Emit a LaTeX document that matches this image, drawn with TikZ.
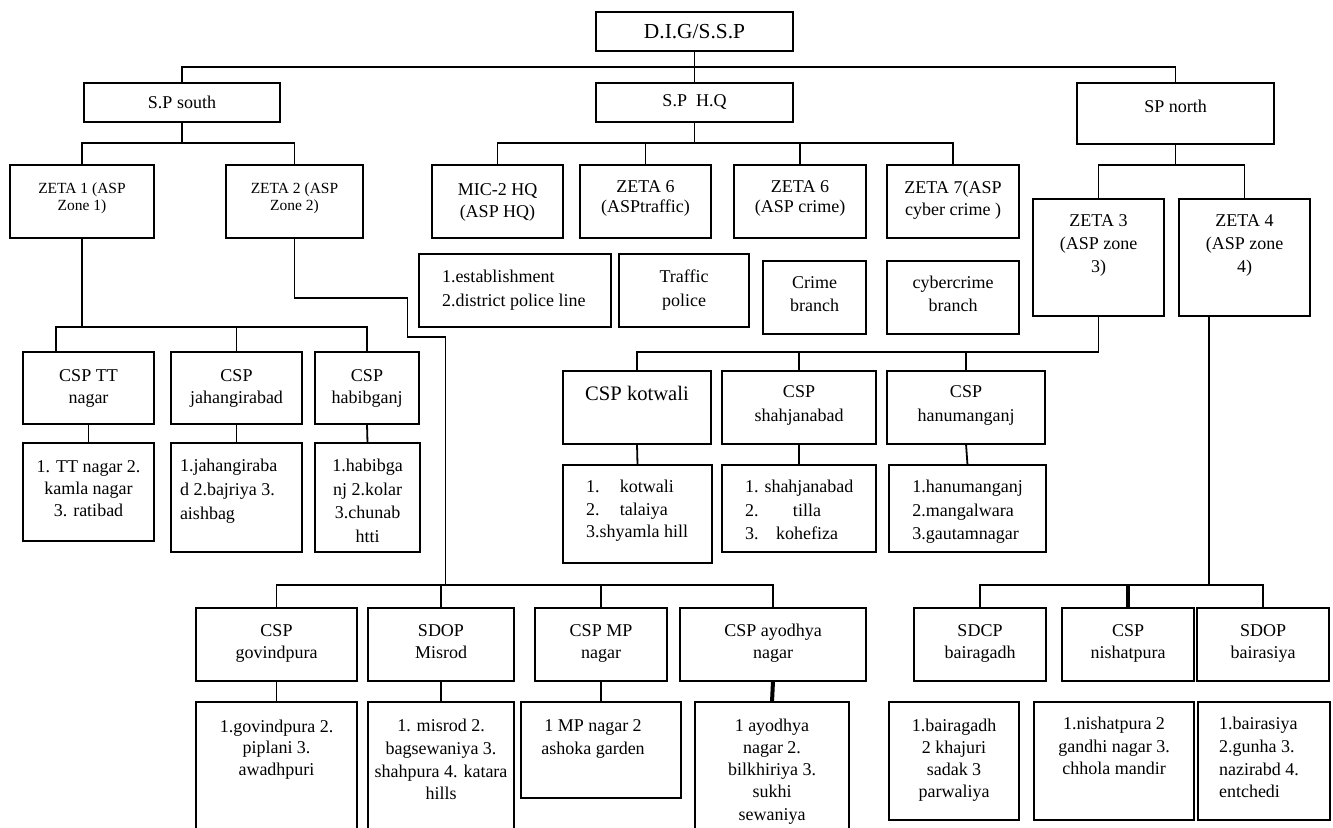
\documentclass[tikz,border=0pt]{standalone}
\usepackage{fontspec}
\setmainfont{Liberation Serif}
\usetikzlibrary{calc}
\newcommand{\obox}[5]{\node[box,anchor=north west,minimum width={((#4)-(#2))*0.5pt},minimum height={((#5)-(#3))*0.5pt}] (#1) at (#2,#3) {};}
\newcommand{\fs}[2]{\fontsize{#1}{#2}\selectfont}
\tikzset{
  box/.style={draw, rectangle, line width=1pt, inner sep=0pt, outer sep=0pt},
  conn/.style={line width=0.9pt},
  heavy/.style={line width=2pt},
  txt/.style={inner sep=0pt, outer sep=0pt, align=center, anchor=north, font=\fs{9}{11}},
  ltxt/.style={txt, anchor=north west, align=left},
}
\begin{document}
\begin{tikzpicture}[x=0.5pt,y=-0.5pt]
\useasboundingbox (0,0) rectangle (1333,828);
\clip (0,0) rectangle (1333,828);
% ---------- boxes ----------
\obox{dig}{596}{12}{793}{51}
\obox{spsouth}{84}{83}{280}{122}
\obox{sphq}{596}{83}{793}{122}
\obox{spnorth}{1077}{83}{1274}{144}
\obox{zeta1}{10}{165}{154}{238}
\obox{zeta2}{226}{165}{363}{238}
\obox{mic}{432}{165}{563}{238}
\obox{zsixt}{580}{165}{711}{238}
\obox{zsixc}{734}{165}{866}{238}
\obox{zseven}{887}{165}{1019}{238}
\obox{zeta3}{1033}{199}{1164}{316}
\obox{zeta4}{1179}{199}{1310}{316}
\obox{est}{419}{254}{611}{327}
\obox{traffic}{619}{254}{749}{327}
\obox{crime}{763}{261}{866}{334}
\obox{cyber}{887}{261}{1019}{334}
\obox{tt}{23}{352}{154}{424}
\obox{jahan}{171}{352}{302}{424}
\obox{habib}{315}{352}{419}{424}
\obox{ttsub}{23}{443}{154}{541}
\obox{jahansub}{171}{443}{302}{552}
\obox{habibsub}{315}{443}{420}{552}
\obox{kot}{563}{371}{711}{444}
\obox{shah}{722}{371}{876}{444}
\obox{hanu}{887}{371}{1045}{444}
\obox{kotsub}{563}{465}{712}{563}
\obox{shahsub}{722}{465}{876}{552}
\obox{hanusub}{889}{465}{1046}{552}
\obox{govind}{196}{608}{357}{681}
\obox{misrod}{368}{608}{514}{681}
\obox{mp}{535}{608}{667}{681}
\obox{ayo}{680}{608}{866}{681}
\obox{govsub}{196}{702}{357}{850}
\obox{missub}{368}{702}{514}{850}
\obox{mpsub}{521}{702}{681}{798}
\obox{ayosub}{695}{702}{849}{850}
\obox{bairagadh}{914}{608}{1046}{681}
\obox{nish}{1062}{608}{1194}{681}
\obox{bairasiya}{1197}{608}{1329}{681}
\obox{bairsub}{889}{702}{1019}{820}
\obox{nishsub}{1034}{702}{1194}{820}
\obox{bairasub}{1198}{702}{1330}{820}
% ---------- texts ----------
\node[txt, anchor=center, font=\fs{10.7}{13}] (dig-t) at (dig.center) {D.I.G/S.S.P};
\node[txt, anchor=center] (spsouth-t) at (spsouth.center) {S.P south};
\node[txt, anchor=center] (sphq-t) at (sphq.center) {S.P~~H.Q};
\node[txt, anchor=center] (spnorth-t) at (1175.5,106) {SP north};
\node[txt, font=\fs{7.75}{8.5}] (zeta1-t) at (82,182) {\strut ZETA 1 (ASP\\Zone 1)};
\node[txt, font=\fs{7.75}{8.5}] (zeta2-t) at (294.5,182) {\strut ZETA 2 (ASP\\Zone 2)};
\node[txt] (mic-t) at (497.5,180) {\strut MIC-2 HQ\\(ASP HQ)};
\node[txt, font=\fs{9}{10}] (zsixt-t) at (645.5,179) {\strut ZETA 6\\(ASPtraffic)};
\node[txt, font=\fs{9}{10}] (zsixc-t) at (800,179) {\strut ZETA 6\\(ASP crime)};
\node[txt] (zseven-t) at (953,178) {\strut ZETA 7(ASP\\cyber crime )};
\node[txt, font=\fs{9}{11.5}] (zeta3-t) at (1098.5,210) {\strut ZETA 3\\(ASP zone\\3)};
\node[txt, font=\fs{9}{11.5}] (zeta4-t) at (1244.5,210) {\strut ZETA 4\\(ASP zone\\4)};
\node[ltxt, font=\fs{9}{12}] (est-t) at (442,266) {\strut 1.establishment\\2.district police line};
\node[txt, font=\fs{9}{12}] (traffic-t) at (684,266) {\strut Traffic\\police};
\node[txt, font=\fs{9}{11.5}] (crime-t) at (814.5,272) {\strut Crime\\branch};
\node[txt, font=\fs{9}{11.5}] (cyber-t) at (953,272) {\strut cybercrime\\branch};
\node[txt] (tt-t) at (88.5,366) {\strut CSP TT\\nagar};
\node[txt] (jahan-t) at (236.5,366) {\strut CSP\\jahangirabad};
\node[txt] (habib-t) at (367,366) {\strut CSP\\habibganj};
\node[txt] (ttsub-t) at (88.5,457) {\strut 1. TT nagar 2.\\kamla nagar\\3. ratibad};
\node[ltxt, font=\fs{9}{12}] (jahansub-t) at (180,455) {\strut 1.jahangiraba\\d 2.bajriya 3.\\aishbag};
\node[txt, font=\fs{9}{11.75}] (habibsub-t) at (367.5,455.5) {\strut 1.habibga\\nj 2.kolar\\3.chunab\\htti};
\node[txt, font=\fs{10.3}{12.5}] (kot-t) at (637,383.5) {\strut CSP kotwali};
\node[txt, font=\fs{9}{12}] (shah-t) at (799,381) {\strut CSP\\shahjanabad};
\node[txt, font=\fs{9}{12}] (hanu-t) at (966,381) {\strut CSP\\hanumanganj};
\node[ltxt, font=\fs{9}{11.25}] (kotsub-t) at (586,477) {\strut\makebox[17pt][l]{1.}kotwali\\\makebox[17pt][l]{2.}talaiya\\3.shyamla hill};
\node[ltxt, font=\fs{9}{11.75}] (shahsub-t) at (745,476.5) {\strut 1. shahjanabad\\\makebox[7.5pt][l]{2.}\makebox[47pt][c]{tilla}\\\makebox[7.5pt][l]{3.}\makebox[47pt][c]{kohefiza}};
\node[txt, align=left, font=\fs{9}{11.75}] (hanusub-t) at (967.5,476.5) {\strut 1.hanumanganj\\2.mangalwara\\3.gautamnagar};
\node[txt] (govind-t) at (276.5,621.5) {\strut CSP\\govindpura};
\node[txt] (misrod-t) at (441,621.5) {\strut SDOP\\Misrod};
\node[txt] (mp-t) at (601,621.5) {\strut CSP MP\\nagar};
\node[txt] (ayo-t) at (773,621.5) {\strut CSP ayodhya\\nagar};
\node[txt] (bairagadh-t) at (980,621.5) {\strut SDCP\\bairagadh};
\node[txt] (nish-t) at (1128,621.5) {\strut CSP\\nishatpura};
\node[txt] (bairasiya-t) at (1263,621.5) {\strut SDOP\\bairasiya};
\node[txt, font=\fs{9}{10.75}] (govsub-t) at (276.5,717) {\strut 1.govindpura 2.\\piplani 3.\\awadhpuri};
\node[txt, font=\fs{9}{11.3}] (missub-t) at (441,716) {\strut 1. misrod 2.\\bagsewaniya 3.\\shahpura 4. katara\\hills};
\node[txt, font=\fs{9}{11.5}] (mpsub-t) at (593,715) {\strut 1 MP nagar 2\\ashoka garden};
\node[txt, font=\fs{9}{11.15}] (ayosub-t) at (772,715.4) {\strut 1 ayodhya\\nagar 2.\\bilkhiriya 3.\\sukhi\\sewaniya};
\node[txt, font=\fs{9}{11.15}] (bairsub-t) at (954,715.4) {\strut 1.bairagadh\\2 khajuri\\sadak 3\\parwaliya};
\node[txt, font=\fs{9}{11.25}] (nishsub-t) at (1114,714) {\strut 1.nishatpura 2\\gandhi nagar 3.\\chhola mandir};
\node[ltxt, font=\fs{9}{11.3}] (bairasub-t) at (1219,714) {\strut 1.bairasiya\\2.gunha 3.\\nazirabd 4.\\entchedi};
% ---------- connectors ----------
\draw[conn] (dig.south) -- ++(0,16) coordinate (h0);
\draw[conn] (h0) -| (spsouth.north);
\draw[conn] (h0) -| (spnorth.north);
\draw[conn] (dig.south) -- (sphq.north);
\draw[conn] (sphq.south) -- ++(0,21) coordinate (h1);
\foreach \n in {mic,zsixt,zsixc,zseven} \draw[conn] (h1) -| (\n.north);
\draw[conn] (spsouth.south) -- ++(0,21) coordinate (h2);
\draw[conn] (h2) -| (zeta1.north);
\draw[conn] (h2) -| (zeta2.north);
\draw[conn] (spnorth.south) -- ++(0,21) coordinate (h3);
\draw[conn] (h3) -| (zeta3.north);
\draw[conn] (h3) -| (zeta4.north);
\draw[conn] (zeta1.south) -- ++(0,89) coordinate (h4);
\draw[conn] (h4) -| ([xshift=-16.25pt]tt.north);
\draw[conn] (h4) -| (jahan.north);
\draw[conn] (h4) -| (habib.north);
\draw[conn] (zeta2.south) -- ++(0,60) -- ++(113,0) -- ++(0,39) -- ++(38,0) -- ++(0,248) coordinate (h5);
\foreach \n in {govind,misrod,mp,ayo} \draw[conn] (h5) -| (\n.north);
\draw[conn] (zeta3.south) -- ++(0,36) coordinate (h6);
\foreach \n in {kot,shah,hanu} \draw[conn] (h6) -| (\n.north);
\draw[conn] ([xshift=-17.75pt]zeta4.south) -- ++(0,269) coordinate (h7);
\foreach \n in {bairagadh,nish,bairasiya} \draw[conn] (h7) -| (\n.north);
\draw[heavy] (nish.north) -- (nish.north |- h7);
\draw[conn] (tt.south) -- (ttsub.north);
\draw[conn] (jahan.south) -- (jahansub.north);
\draw[conn] (habib.south) -- (habibsub.north);
\draw[conn] (kot.south) -- (kotsub.north);
\draw[conn] (shah.south) -- (shahsub.north);
\draw[conn] (hanu.south) -- (hanusub.north);
\draw[conn] (govind.south) -- (govsub.north);
\draw[conn] (misrod.south) -- (missub.north);
\draw[conn] (mp.south) -- (mpsub.north);
\draw[heavy] (ayo.south) -- (ayosub.north);
\end{tikzpicture}
\end{document}
